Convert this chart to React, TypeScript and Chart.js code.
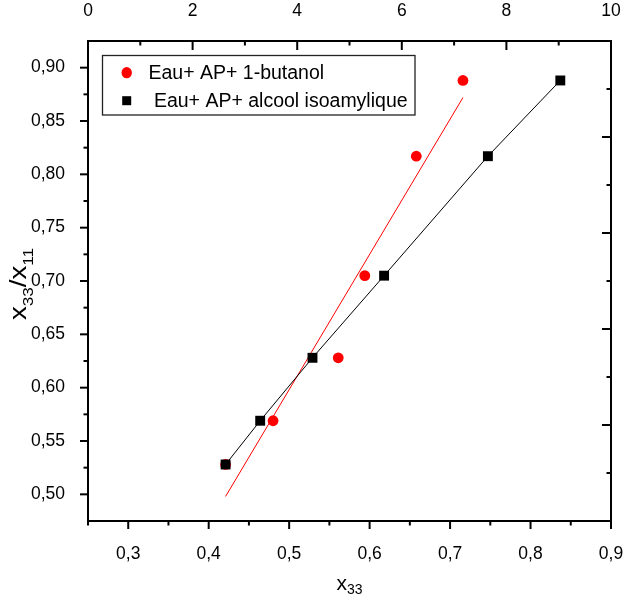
import React, { useEffect, useRef } from "react";
import { Chart, registerables } from "chart.js";

Chart.register(...registerables);

// ---- data ----
const seriesLabels = ["Eau+ AP+ 1-butanol", " Eau+ AP+ alcool isoamylique"];
const butanolX = [0.421, 0.48, 0.561, 0.594, 0.658, 0.716];
const butanolY = [0.528, 0.569, 0.628, 0.705, 0.817, 0.888];
const isoX = [0.421, 0.464, 0.529, 0.618, 0.747, 0.837];
const isoY = [0.528, 0.569, 0.628, 0.705, 0.817, 0.888];
const fitX = [0.421, 0.716];
const fitY = [0.498, 0.872];

const xTicks = [0.3, 0.4, 0.5, 0.6, 0.7, 0.8, 0.9];
const xMinorTicks = [0.25, 0.35, 0.45, 0.55, 0.65, 0.75, 0.85];
const yTicks = [0.5, 0.55, 0.6, 0.65, 0.7, 0.75, 0.8, 0.85, 0.9];
const yMinorTicks = [0.525, 0.575, 0.625, 0.675, 0.725, 0.775, 0.825, 0.875];
const topTicks = [0, 2, 4, 6, 8, 10];
const topMinorTicks = [1, 3, 5, 7, 9];
const rightTicks = [0, 2, 4, 6, 8, 10];
const rightMinorTicks = [1, 3, 5, 7, 9];

const xTitleMain = "x";
const xTitleSub = "33";
const yTitleParts = [
  { t: "x", sub: false },
  { t: "33", sub: true },
  { t: "/", sub: false },
  { t: "x", sub: false },
  { t: "11", sub: true },
];

const FONT = "'Liberation Sans', Arial, sans-serif";
const RED = "#ff0000";
const BLACK = "#000000";

const comma = (v: number, d: number) => v.toFixed(d).replace(".", ",");

const ticksPlugin = {
  id: "customTicks",
  afterDraw(chart: any) {
    const { ctx, chartArea: a, scales } = chart;
    ctx.save();
    ctx.strokeStyle = BLACK;
    ctx.lineWidth = 2;
    const line = (x1: number, y1: number, x2: number, y2: number) => {
      ctx.beginPath();
      ctx.moveTo(x1, y1);
      ctx.lineTo(x2, y2);
      ctx.stroke();
    };
    const MAJ = 8;
    const MIN = 4.5;
    xTicks.forEach((v) => { const p = scales.x.getPixelForValue(v); line(p, a.bottom, p, a.bottom + MAJ); });
    xMinorTicks.forEach((v) => { const p = scales.x.getPixelForValue(v); line(p, a.bottom, p, a.bottom + MIN); });
    topTicks.forEach((v) => { const p = scales.x2.getPixelForValue(v); line(p, a.top, p, a.top + MAJ + 1); });
    topMinorTicks.forEach((v) => { const p = scales.x2.getPixelForValue(v); line(p, a.top, p, a.top + MIN); });
    yTicks.forEach((v) => { const p = scales.y.getPixelForValue(v); line(a.left, p, a.left - MAJ, p); });
    yMinorTicks.forEach((v) => { const p = scales.y.getPixelForValue(v); line(a.left, p, a.left - MIN, p); });
    rightTicks.forEach((v) => { const p = scales.y2.getPixelForValue(v); line(a.right, p, a.right - MAJ - 1, p); });
    rightMinorTicks.forEach((v) => { const p = scales.y2.getPixelForValue(v); line(a.right, p, a.right - MIN, p); });
    ctx.restore();
  },
};

const titlesPlugin = {
  id: "customTitles",
  afterDraw(chart: any) {
    const { ctx, chartArea: a } = chart;
    ctx.save();
    ctx.fillStyle = BLACK;
    ctx.textBaseline = "alphabetic";
    ctx.textAlign = "left";
    // x title
    const mainF = `21px ${FONT}`;
    const subF = `14px ${FONT}`;
    ctx.font = mainF;
    const w1 = ctx.measureText(xTitleMain).width;
    ctx.font = subF;
    const w2 = ctx.measureText(xTitleSub).width;
    const cx = (a.left + a.right) / 2;
    const x0 = cx - (w1 + w2) / 2;
    ctx.font = mainF;
    ctx.fillText(xTitleMain, x0, 590);
    ctx.font = subF;
    ctx.fillText(xTitleSub, x0 + w1, 593.5);

    // y title (rotated)
    const yMainF = `24px ${FONT}`;
    const ySubF = `15px ${FONT}`;
    let total = 0;
    const widths = yTitleParts.map((p) => {
      ctx.font = p.sub ? ySubF : yMainF;
      const w = ctx.measureText(p.t).width;
      total += w;
      return w;
    });
    const targetLen = 72;
    const sx = targetLen / total;
    ctx.translate(26, 284);
    ctx.rotate(-Math.PI / 2);
    ctx.scale(sx, 1);
    let pos = -total / 2;
    yTitleParts.forEach((p, i) => {
      ctx.font = p.sub ? ySubF : yMainF;
      ctx.fillText(p.t, pos, p.sub ? 6.5 : 0);
      pos += widths[i];
    });
    ctx.restore();
  },
};

const legendPlugin = {
  id: "customLegend",
  afterDraw(chart: any) {
    const { ctx } = chart;
    ctx.save();
    ctx.strokeStyle = "#222";
    ctx.lineWidth = 1.3;
    ctx.strokeRect(102.5, 55.5, 312.5, 59.5);
    // markers
    ctx.fillStyle = RED;
    ctx.beginPath();
    ctx.ellipse(126.7, 72.7, 5.2, 5.6, 0, 0, Math.PI * 2);
    ctx.fill();
    ctx.fillStyle = BLACK;
    ctx.fillRect(126.7 - 4.5, 100.7 - 4.5, 9, 9);
    ctx.font = `19.5px ${FONT}`;
    ctx.textBaseline = "alphabetic";
    ctx.textAlign = "left";
    ctx.fillText(seriesLabels[0], 148.5, 78.5);
    ctx.fillText(seriesLabels[1], 148.5, 106.7);
    ctx.restore();
  },
};

const noPad = (s: any) => {
  s.paddingLeft = 0;
  s.paddingRight = 0;
  s.paddingTop = 0;
  s.paddingBottom = 0;
};

export default function App() {
  const ref = useRef<HTMLCanvasElement | null>(null);
  useEffect(() => {
    if (!ref.current) return;
    const tickFont = { family: FONT, size: 17.5 };
    const chart = new Chart(ref.current, {
      type: "scatter",
      data: {
        datasets: [
          {
            label: seriesLabels[1],
            data: isoX.map((x, i) => ({ x, y: isoY[i] })),
            showLine: true,
            borderColor: BLACK,
            borderWidth: 1,
            pointStyle: "rect",
            pointRadius: 7,
            pointBackgroundColor: BLACK,
            pointBorderWidth: 0,
            xAxisID: "x",
            yAxisID: "y",
          },
          {
            label: "fit",
            data: fitX.map((x, i) => ({ x, y: fitY[i] })),
            showLine: true,
            borderColor: RED,
            borderWidth: 1,
            pointRadius: 0,
            xAxisID: "x",
            yAxisID: "y",
          },
          {
            label: seriesLabels[0],
            data: butanolX.map((x, i) => ({ x, y: butanolY[i] })),
            showLine: false,
            pointStyle: "circle",
            pointRadius: 5.4,
            pointBackgroundColor: RED,
            pointBorderWidth: 0,
            xAxisID: "x",
            yAxisID: "y",
          },
        ],
      },
      options: {
        responsive: false,
        animation: false,
        devicePixelRatio: 1,
        layout: { padding: 0 },
        plugins: { legend: { display: false }, tooltip: { enabled: false } },
        scales: {
          x: {
            type: "linear",
            position: "bottom",
            min: 0.25,
            max: 0.9,
            afterBuildTicks: (s: any) => { s.ticks = xTicks.map((v) => ({ value: v })); },
            afterFit: (s: any) => { s.height = 82; noPad(s); },
            ticks: { font: tickFont, color: BLACK, padding: 15, maxRotation: 0, autoSkip: false, callback: (v: any) => comma(Number(v), 1) },
            grid: { display: false },
            border: { display: true, color: BLACK, width: 2 },
          },
          x2: {
            type: "linear",
            position: "top",
            min: 0,
            max: 10,
            afterBuildTicks: (s: any) => { s.ticks = topTicks.map((v) => ({ value: v })); },
            afterFit: (s: any) => { s.height = 41; noPad(s); },
            ticks: { font: tickFont, color: BLACK, padding: 11, maxRotation: 0, autoSkip: false, callback: (v: any) => String(v) },
            grid: { display: false },
            border: { display: true, color: BLACK, width: 2 },
          },
          y: {
            type: "linear",
            position: "left",
            min: 0.475,
            max: 0.925,
            afterBuildTicks: (s: any) => { s.ticks = yTicks.map((v) => ({ value: v })); },
            afterFit: (s: any) => { s.width = 88; noPad(s); },
            ticks: { font: tickFont, color: BLACK, padding: 15, autoSkip: false, callback: (v: any) => comma(Number(v), 2) },
            grid: { display: false },
            border: { display: true, color: BLACK, width: 2 },
          },
          y2: {
            type: "linear",
            position: "right",
            min: 0,
            max: 10,
            afterBuildTicks: (s: any) => { s.ticks = rightTicks.map((v) => ({ value: v })); },
            afterFit: (s: any) => { s.width = 13; noPad(s); },
            ticks: { display: false },
            grid: { display: false },
            border: { display: true, color: BLACK, width: 2 },
          },
        },
      } as any,
      plugins: [ticksPlugin, titlesPlugin, legendPlugin],
    });
    return () => chart.destroy();
  }, []);
  return (
    <div style={{ position: "fixed", left: 0, top: 0, width: 624, height: 603, background: "#fff" }}>
      <canvas ref={ref} width={624} height={603} style={{ display: "block" }} />
    </div>
  );
}
